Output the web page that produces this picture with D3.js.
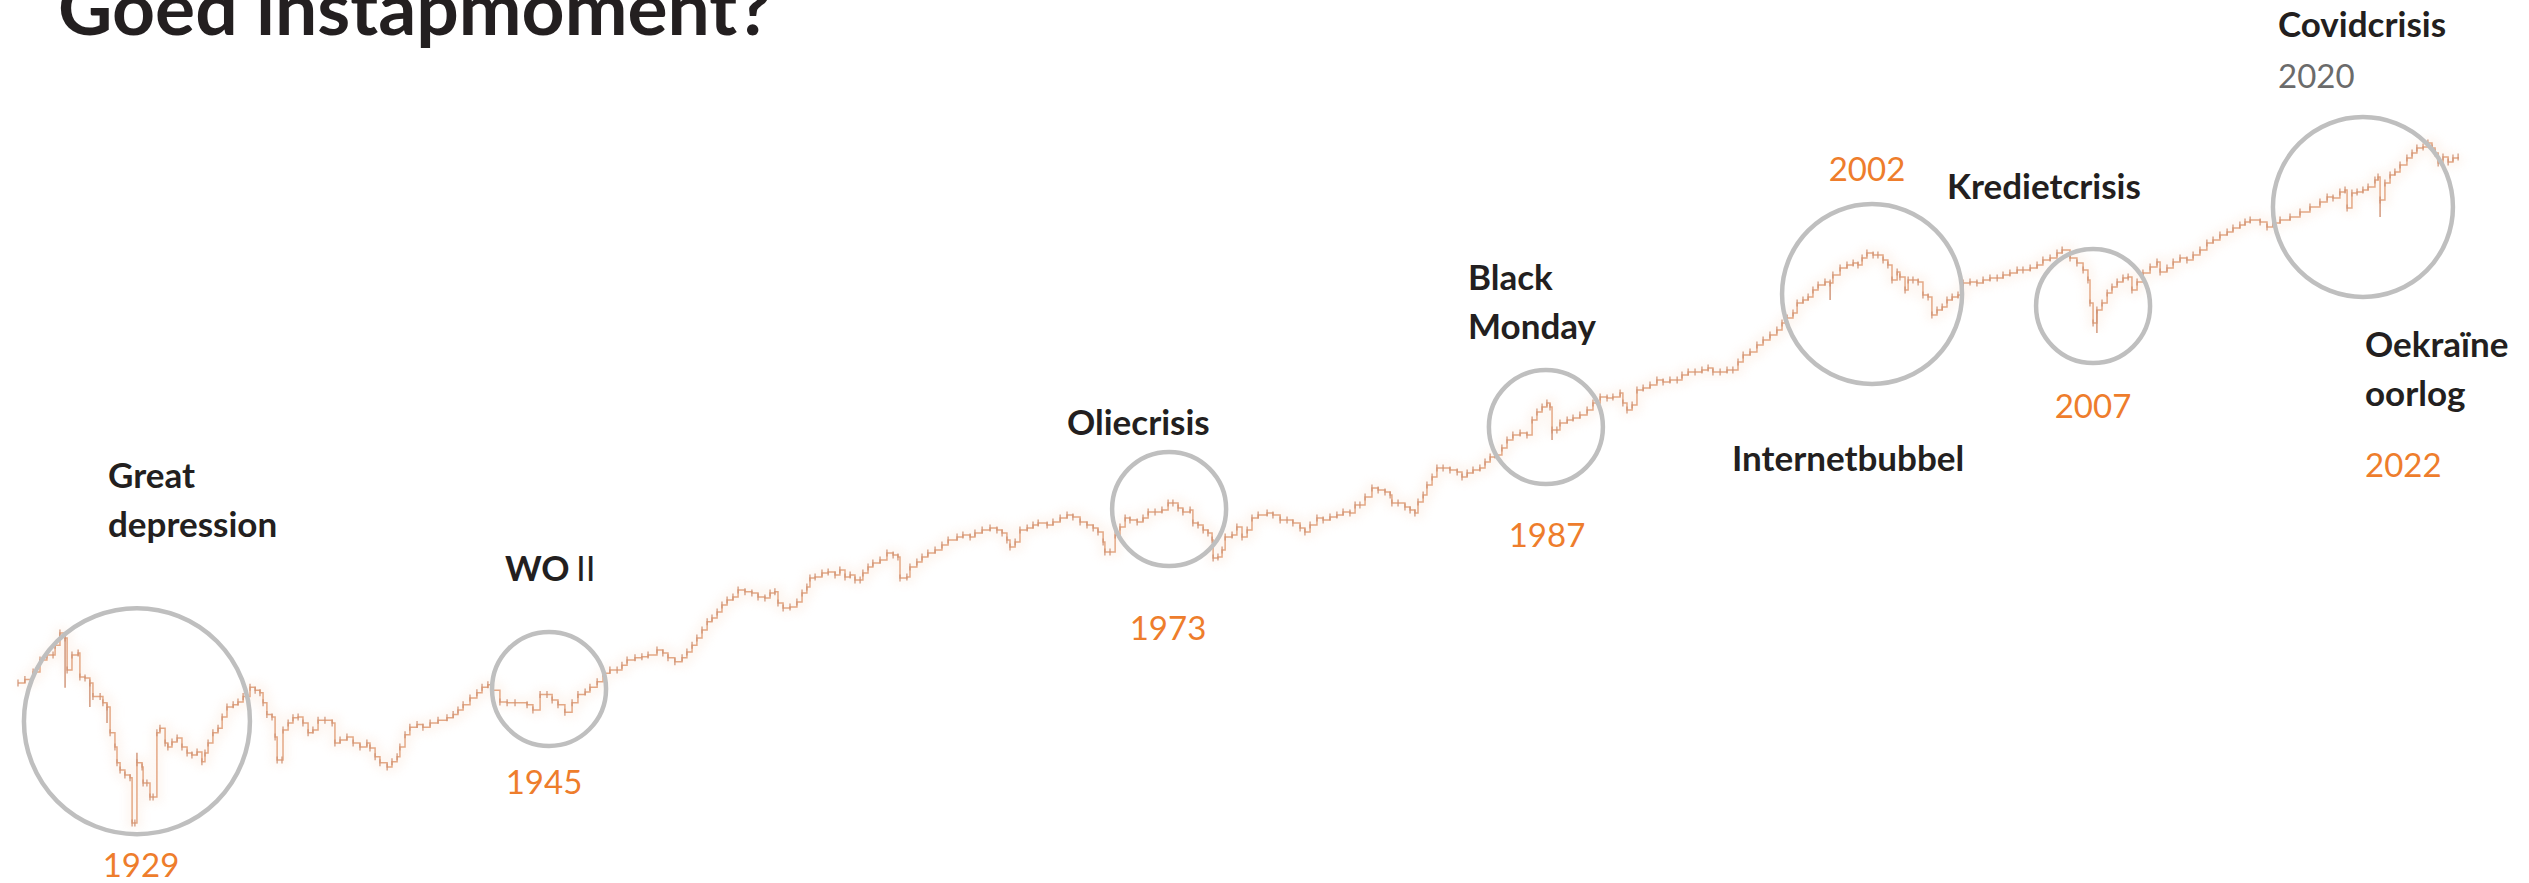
<!DOCTYPE html>
<html><head><meta charset="utf-8">
<script src="https://cdn.jsdelivr.net/npm/d3@7"></script>
<style>html,body{margin:0;padding:0;background:#fff;overflow:hidden}</style>
</head><body>
<svg id="chart" width="2529" height="883" xmlns="http://www.w3.org/2000/svg"></svg>
<script>
// ---- DATA (index level; log scale) ----
const years = [
1928.00,1928.27,1928.59,1928.86,1929.13,1929.37,1929.45,1929.64,1929.84,1929.92,
1930.11,1930.35,1930.42,1930.62,1930.81,1930.93,1931.21,1931.32,1931.48,1931.60,1931.79,1931.87,1931.99,
1932.18,1932.38,1932.46,1932.57,1932.65,1932.85,1932.89,1933.04,1933.16,1933.28,1933.43,1933.55,1933.75,1933.86,
1934.02,1934.22,1934.41,1934.61,1934.80,1935.00,1935.19,1935.31,1935.43,1935.62,1935.82,1935.98,
1936.17,1936.41,1936.60,1936.80,1937.07,1937.27,1937.46,1937.58,1937.73,1937.93,
1938.05,1938.13,1938.32,1938.36,1938.56,1938.75,1938.95,1939.14,1939.34,1939.53,1939.73,
1940.00,1940.28,1940.39,1940.59,1940.86,1941.10,1941.37,1941.64,1941.76,1941.96,
1942.15,1942.43,1942.62,1942.82,1942.93,1943.13,1943.32,1943.60,1943.83,1944.11,1944.42,1944.77,
1945.01,1945.20,1945.40,1945.67,1945.94,1946.14,1946.37,1946.57,1946.84,1947.12,1947.43,1947.90,
1948.13,1948.41,1948.68,1948.88,1949.11,1949.38,1949.66,1949.89,
1950.17,1950.36,1950.64,1950.87,1951.14,1951.42,1951.61,1951.81,1952.12,1952.39,1952.63,1952.98,
1953.21,1953.41,1953.68,1953.96,1954.15,1954.35,1954.54,1954.74,1954.94,
1955.13,1955.33,1955.52,1955.72,1955.95,1956.15,1956.42,1956.69,1956.93,
1957.20,1957.40,1957.59,1957.71,1957.91,1958.18,1958.45,1958.65,1958.84,1958.96,
1959.16,1959.43,1959.67,1959.94,1960.13,1960.33,1960.53,1960.72,1960.92,
1961.03,1961.23,1961.42,1961.70,1961.97,1962.21,1962.40,1962.48,1962.75,1962.87,
1963.14,1963.34,1963.57,1963.85,1964.12,1964.36,1964.71,1964.94,
1965.22,1965.41,1965.69,1966.00,1966.27,1966.47,1966.66,1966.78,1966.98,
1967.17,1967.45,1967.68,1967.88,1968.23,1968.46,1968.74,1969.01,1969.24,1969.52,1969.79,
1970.03,1970.22,1970.42,1970.49,1970.69,1970.89,1971.08,1971.28,1971.47,1971.75,1971.98,
1972.18,1972.45,1972.72,1972.96,1973.15,1973.35,1973.54,1973.82,1973.93,
1974.13,1974.33,1974.52,1974.68,1974.72,1974.91,1975.07,1975.19,1975.46,1975.65,1975.85,
1976.05,1976.24,1976.48,1976.83,1977.06,1977.34,1977.61,1977.84,
1978.12,1978.31,1978.51,1978.78,1979.02,1979.29,1979.56,1979.80,
1980.07,1980.27,1980.46,1980.66,1980.93,1981.17,1981.44,1981.64,1981.71,1981.95,
1982.22,1982.42,1982.61,1982.73,1982.93,1983.08,1983.28,1983.47,1983.71,1983.98,
1984.26,1984.45,1984.65,1984.88,1985.15,1985.35,1985.55,1985.74,
1986.01,1986.21,1986.44,1986.72,1986.99,1987.19,1987.38,1987.58,1987.77,1987.89,1987.97,
1988.16,1988.28,1988.56,1988.79,1989.06,1989.34,1989.57,1989.85,
1990.12,1990.35,1990.63,1990.74,1990.90,1991.10,1991.29,1991.53,1991.80,
1992.07,1992.31,1992.58,1992.86,1993.05,1993.29,1993.56,1993.83,
1994.07,1994.26,1994.54,1994.81,1995.04,1995.24,1995.44,1995.71,1995.98,
1996.22,1996.49,1996.76,1996.96,1997.16,1997.39,1997.55,1997.78,1997.98,
1998.17,1998.37,1998.64,1998.84,1998.95,1999.23,1999.50,1999.74,1999.93,
2000.09,2000.28,2000.52,2000.71,2000.91,2001.10,2001.26,2001.46,2001.57,2001.77,2001.89,
2002.08,2002.28,2002.47,2002.67,2002.82,2003.02,2003.22,2003.41,2003.61,2003.84,
2004.04,2004.31,2004.58,2004.82,2005.09,2005.37,2005.60,2005.87,
2006.15,2006.38,2006.66,2006.93,2007.16,2007.44,2007.71,2007.91,
2008.22,2008.49,2008.73,2008.92,2009.00,2009.12,2009.27,2009.47,2009.67,2009.86,
2010.06,2010.29,2010.49,2010.64,2010.84,2011.07,2011.35,2011.62,2011.74,
2012.01,2012.25,2012.52,2012.79,2013.03,2013.30,2013.57,2013.81,
2014.08,2014.36,2014.59,2014.86,2015.06,2015.26,2015.65,2015.92,
2016.15,2016.43,2016.82,2017.21,2017.60,2017.99,
2018.27,2018.50,2018.77,2018.97,2019.05,2019.24,2019.44,2019.67,2019.87,
2020.14,2020.26,2020.34,2020.53,2020.73,2020.92,2021.12,2021.39,2021.59,2021.78,
2022.02,2022.21,2022.37,2022.49,2022.61,2022.80,2023.00,2023.19,2023.39
];
const closes = [
172,178,192,217,228,228,252,285,271,196,
228,233,183,181,172,150,150,141,135,104,90.2,76.8,71.5,
68.0,66.0,41.8,41.8,76.8,73.7,62.7,62.7,54.4,54.4,104,109,93.9,90.2,
94.9,98.8,90.2,84.9,83.2,85.8,77.6,84.9,93.9,104,109,122,
135,138,142,150,165,160,156,141,125,122,
99.8,79.1,79.1,107,115,121,122,115,104,107,118,
118,115,93.9,96.8,99.8,93.9,90.2,93.9,89.3,81.6,
76.8,73.7,77.6,81.6,90.2,102,110,113,110,115,118,121,
125,131,138,148,156,165,169,160,142,141,141,138,
131,153,153,145,138,128,141,153,
157,165,174,190,196,196,206,217,222,224,228,240,
233,222,213,222,235,252,271,294,319,
332,352,378,398,410,440,432,427,410,
406,427,432,386,367,371,390,427,454,497,
502,522,528,512,539,502,512,487,487,
522,555,578,596,639,627,614,497,502,555,
584,614,639,659,693,729,752,767,
752,783,807,823,807,783,729,679,715,
807,823,848,865,848,874,910,938,919,874,848,
823,791,715,646,646,767,831,910,892,874,910,
967,967,987,1059,1059,1007,967,987,865,
848,807,783,729,608,614,659,752,767,831,752,
807,910,938,957,938,892,892,865,
823,791,848,910,892,919,938,967,
957,1038,1038,1126,1233,1208,1184,1149,1059,1059,
1017,987,957,1070,1149,1271,1378,1509,1509,1479,
1449,1378,1435,1479,1509,1604,1687,1721,
1846,2001,2105,2148,2105,2450,2656,2794,2909,2794,2215,
2215,2377,2450,2500,2577,2711,2909,3089,
3058,3089,3217,2909,2711,2849,3316,3384,3488,
3669,3596,3669,3669,3858,3977,3977,4058,
4141,3977,3977,4058,4058,4400,4723,4868,5223,
5494,5779,6079,6522,6860,7217,7985,8228,8481,
9103,9576,9871,9772,10593,11370,11719,11960,11719,
12580,13229,12965,12965,12328,11719,10071,10919,10381,9103,10071,
10071,9870,8654,8481,7072,7439,7668,8228,8481,8654,
9772,9870,9772,10071,10277,10277,10593,10809,
11142,11142,11370,11719,12328,12580,13229,13636,
12580,11960,11142,10071,7982,6522,7439,7982,8831,9384,
9870,10277,10381,9103,9870,10809,11485,12081,10919,
11370,12081,12580,12328,12965,13636,14636,15086,
15870,16359,17028,17552,18093,18461,18093,17201,
17910,18461,19030,20018,21057,22142,
23290,23055,24497,24996,20839,24250,24497,24996,25769,
27660,28511,22594,26833,29083,29979,32174,34539,36318,38201,
38590,40181,38201,36318,32835,34891,33169,34539,34891
];
// extra intra-period ranges (spikes)
const wickYears = [1929.84, 1930.81, 1931.48, 1932.65, 1987.97, 1998.84, 2009.27, 2020.34];
const wickLows  = [164, 135, 115, 76.8, 2001, 8228, 5896, 19025];
const wickHighs = [271, 172, 135, 85, 2215, 9772, 7439, 22594];

// crisis markers (centre in data units)
const crisisYears  = [1932.65, 1948.76, 1973.00, 1987.73, 2000.48, 2009.12, 2019.67];
const crisisValues = [117, 162, 997, 2282, 8742, 7746, 21051];

// texts
const titleText = "Goed instapmoment?";
const crisisLabels = ["Great|depression", "WO", "Oliecrisis", "Black|Monday", "Internetbubbel", "Kredietcrisis", "Covidcrisis", "Oekraïne|oorlog"];
const yearLabels = ["1929", "1945", "1973", "1987", "2002", "2007", "2020", "2022"];

// ---- LAYOUT / STYLE ----
const circleR = [113, 57, 57, 57, 90, 57, 90];
const svg = d3.select('#chart');
const x = d3.scaleLinear().domain([1928, 2024]).range([18, 2473.7]);
const y = d3.scaleLog().domain([41, 41000]).range([825, 141]);

const defs = svg.append('defs');
defs.append('filter').attr('id', 'blur').attr('x', '-5%').attr('y', '-5%').attr('width', '110%').attr('height', '110%')
  .append('feGaussianBlur').attr('stdDeviation', 4);

const pts = years.map((t, i) => [t, closes[i]]);
const line = d3.line().x(d => x(d[0])).y(d => y(d[1])).curve(d3.curveStepAfter);

const g = svg.append('g');
// soft halo
g.append('path').attr('d', line(pts)).attr('fill', 'none')
  .attr('stroke', '#f8dcc8').attr('stroke-width', 12).attr('opacity', 0.22).attr('filter', 'url(#blur)');
// main stepped line
g.append('path').attr('d', line(pts)).attr('fill', 'none')
  .attr('stroke', '#e4a885').attr('stroke-width', 1.5).attr('stroke-linejoin', 'miter');
// small period ticks
g.selectAll('line.tk').data(pts).join('line').attr('class', 'tk')
  .attr('x1', d => x(d[0])).attr('x2', d => x(d[0]))
  .attr('y1', d => y(d[1]) - 3.5).attr('y2', d => y(d[1]) + 3.5)
  .attr('stroke', '#cf9274').attr('stroke-width', 1.2);
// spikes
g.selectAll('line.wk').data(wickYears).join('line').attr('class', 'wk')
  .attr('x1', d => x(d)).attr('x2', d => x(d))
  .attr('y1', (d, i) => y(wickHighs[i])).attr('y2', (d, i) => y(wickLows[i]))
  .attr('stroke', '#cf9274').attr('stroke-width', 1.4);

// circles
svg.selectAll('circle.cr').data(crisisYears).join('circle').attr('class', 'cr')
  .attr('cx', d => x(d)).attr('cy', (d, i) => y(crisisValues[i])).attr('r', (d, i) => circleR[i])
  .attr('fill', 'none').attr('stroke', '#bfbfbf').attr('stroke-width', 4.5);

// texts
const FONT = "Lato, 'Open Sans', sans-serif";
const dark = '#231f20', orange = '#ee7d2c', grey = '#6b6b6b';
function txt(s, px, py, size, weight, color, anchor) {
  return svg.append('text').attr('x', px).attr('y', py).text(s)
    .attr('font-family', FONT).attr('font-size', size).attr('font-weight', weight)
    .attr('fill', color).attr('text-anchor', anchor || 'start');
}
txt(titleText, 58, 35, 75, 700, dark);

const LBL = 35, NUM = 33;
const labelPos = [[108, 488], [505, 581], [1067, 435], [1468, 290], [1732, 471], [1947, 199], [2278, 37], [2365, 357]];
crisisLabels.forEach((s, i) => {
  const parts = s.split('|');
  parts.forEach((p, j) => txt(p, labelPos[i][0], labelPos[i][1] + j * 49, LBL, 700, dark));
});
// "II" in regular weight after WO
txt('II', 576, 581, LBL, 400, dark);

const yearPos = [[141, 877, 'middle', orange], [544, 794, 'middle', orange], [1168, 640, 'middle', orange],
  [1547, 547, 'middle', orange], [1867, 181, 'middle', orange], [2093, 418, 'middle', orange],
  [2278, 88, 'start', grey], [2365, 477, 'start', orange]];
yearLabels.forEach((s, i) => txt(s, yearPos[i][0], yearPos[i][1], NUM, 400, yearPos[i][3], yearPos[i][2]));
</script>
</body></html>
